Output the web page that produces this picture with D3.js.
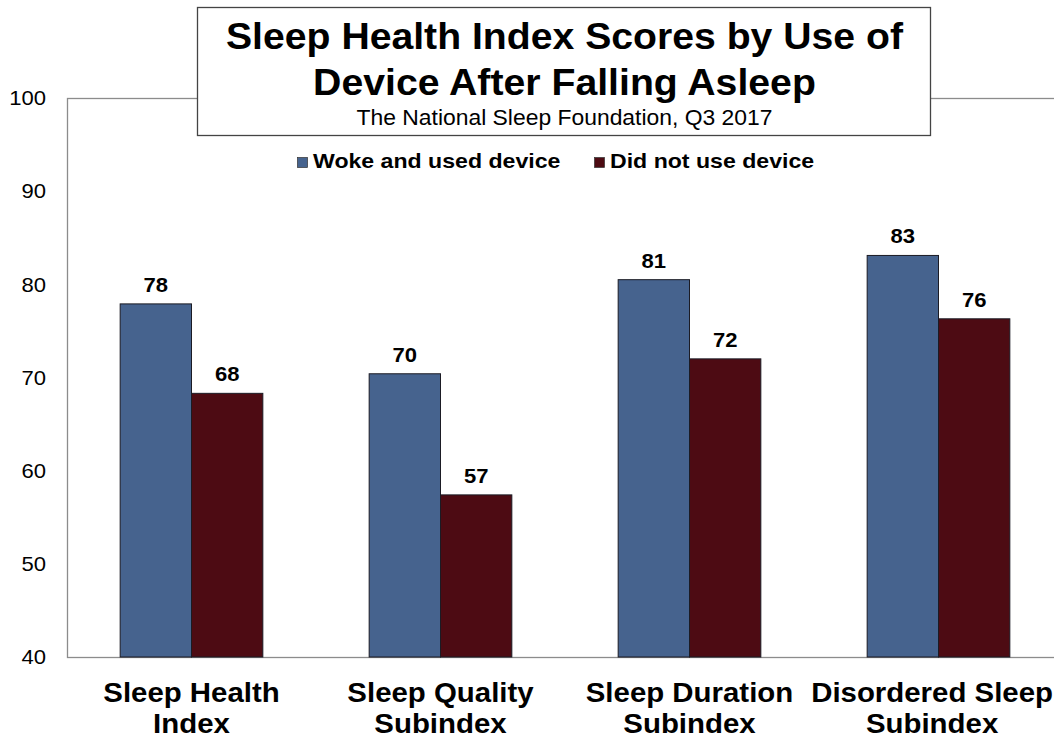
<!DOCTYPE html>
<html>
<head>
<meta charset="utf-8">
<script src="https://cdn.jsdelivr.net/npm/d3@7"></script>
<style>
  body { margin: 0; background: #fff; }
  svg { display: block; font-family: "Liberation Sans", Arial, sans-serif; }
</style>
</head>
<body>
<div id="chart"></div>
<script>
// chart data
const categories = [
  ['Sleep Health', 'Index'],
  ['Sleep Quality', 'Subindex'],
  ['Sleep Duration', 'Subindex'],
  ['Disordered Sleep', 'Subindex']
];
const seriesNames = ['Woke and used device', 'Did not use device'];
const wokeValues = [77.9, 70.4, 80.5, 83.1];
const notUsedValues = [68.3, 57.4, 72.0, 76.3];
const wokeLabels = ['78', '70', '81', '83'];
const notUsedLabels = ['68', '57', '72', '76'];
const yTicks = [40, 50, 60, 70, 80, 90, 100];

const colors = ['#46638E', '#4D0B13'];
const W = 1054, H = 738;
const plotLeft = 67, plotRight = 1063, plotTop = 98, plotBottom = 657;

// the original font runs a bit wider than Liberation Sans, so stretch text
function stretch(sel, f) {
  sel.each(function() {
    const w = this.getComputedTextLength();
    d3.select(this)
      .attr('textLength', w * f)
      .attr('lengthAdjust', 'spacingAndGlyphs');
  });
}

const svg = d3.select('#chart').append('svg')
  .attr('width', W)
  .attr('height', H);

const x0 = d3.scaleBand()
  .domain(d3.range(categories.length))
  .range([plotLeft, plotRight])
  .padding(0);

const barFrac = 0.573;
const x1 = d3.scaleBand()
  .domain([0, 1])
  .range([x0.bandwidth() * (1 - barFrac) / 2, x0.bandwidth() * (1 + barFrac) / 2])
  .padding(0);

const y = d3.scaleLinear().domain([40, 100]).range([plotBottom, plotTop]);

// plot frame
svg.append('rect')
  .attr('x', plotLeft + 0.5)
  .attr('y', y(100) + 0.5)
  .attr('width', plotRight - plotLeft)
  .attr('height', y(40) - y(100))
  .attr('fill', 'none')
  .attr('stroke', '#8c8c8c')
  .attr('stroke-width', 1.3);

// y axis
const yAxis = svg.append('g')
  .attr('transform', `translate(${plotLeft},0)`)
  .call(d3.axisLeft(y).tickValues(yTicks).tickSize(0).tickPadding(21));
yAxis.select('.domain').remove();
yAxis.selectAll('text')
  .attr('font-size', 21)
  .attr('font-family', '"Liberation Sans", Arial, sans-serif')
  .attr('fill', '#000')
  .call(stretch, 1.05);

// bars
const rows = categories.map((c, i) => ({
  i,
  vals: [wokeValues[i], notUsedValues[i]],
  labels: [wokeLabels[i], notUsedLabels[i]]
}));

const groups = svg.append('g').selectAll('g')
  .data(rows)
  .join('g')
  .attr('transform', d => `translate(${x0(d.i)},0)`);

groups.selectAll('rect')
  .data(d => d.vals.map((v, s) => ({ v, s })))
  .join('rect')
  .attr('x', d => x1(d.s))
  .attr('y', d => y(d.v))
  .attr('width', x1.bandwidth())
  .attr('height', d => y(40) - y(d.v))
  .attr('fill', d => colors[d.s])
  .attr('stroke', '#1b1b24')
  .attr('stroke-width', 1);

groups.selectAll('text.val')
  .data(d => d.vals.map((v, s) => ({ v, s, label: d.labels[s] })))
  .join('text')
  .attr('class', 'val')
  .attr('x', d => x1(d.s) + x1.bandwidth() / 2)
  .attr('y', d => y(d.v) - 12)
  .attr('text-anchor', 'middle')
  .attr('font-size', 21)
  .attr('font-weight', 'bold')
  .text(d => d.label)
  .call(stretch, 1.05);

// category labels, one text per line
const catGroups = groups.append('g').attr('class', 'cat-g');
catGroups.selectAll('text.cat')
  .data(d => categories[d.i])
  .join('text')
  .attr('class', 'cat')
  .attr('x', x0.bandwidth() / 2)
  .attr('y', (d, k) => 702 + k * 31)
  .attr('text-anchor', 'middle')
  .attr('font-size', 28)
  .attr('font-weight', 'bold')
  .text(d => d)
  .call(stretch, 1.05);

// keep the last label inside the picture, like the original does
catGroups.each(function(d) {
  const b = this.getBBox();
  const rightEdge = x0(d.i) + b.x + b.width;
  if (rightEdge > W - 1) {
    d3.select(this).attr('transform', `translate(${W - 1 - rightEdge},0)`);
  }
});

// title box
svg.append('rect')
  .attr('x', 197.5)
  .attr('y', 7.5)
  .attr('width', 733)
  .attr('height', 128)
  .attr('fill', '#fff')
  .attr('stroke', '#444')
  .attr('stroke-width', 1.3);

const tx = 564.5;
svg.append('text')
  .attr('x', tx).attr('y', 49)
  .attr('text-anchor', 'middle')
  .attr('font-size', 36).attr('font-weight', 'bold')
  .text('Sleep Health Index Scores by Use of')
  .call(stretch, 1.088);
svg.append('text')
  .attr('x', tx).attr('y', 95)
  .attr('text-anchor', 'middle')
  .attr('font-size', 37).attr('font-weight', 'bold')
  .text('Device After Falling Asleep')
  .call(stretch, 1.06);
svg.append('text')
  .attr('x', tx).attr('y', 125)
  .attr('text-anchor', 'middle')
  .attr('font-size', 22)
  .text('The National Sleep Foundation, Q3 2017')
  .call(stretch, 1.04);

// legend
const legendX = [297, 594];
const legend = svg.append('g').selectAll('g')
  .data(seriesNames)
  .join('g')
  .attr('transform', (d, i) => `translate(${legendX[i]},0)`);
legend.append('rect')
  .attr('x', 0.5).attr('y', 157.5)
  .attr('width', 10).attr('height', 10)
  .attr('fill', (d, i) => colors[i])
  .attr('stroke', '#333')
  .attr('stroke-width', 0.7);
legend.append('text')
  .attr('x', 16).attr('y', 168)
  .attr('font-size', 21).attr('font-weight', 'bold')
  .text(d => d)
  .call(stretch, 1.1);
</script>
</body>
</html>
